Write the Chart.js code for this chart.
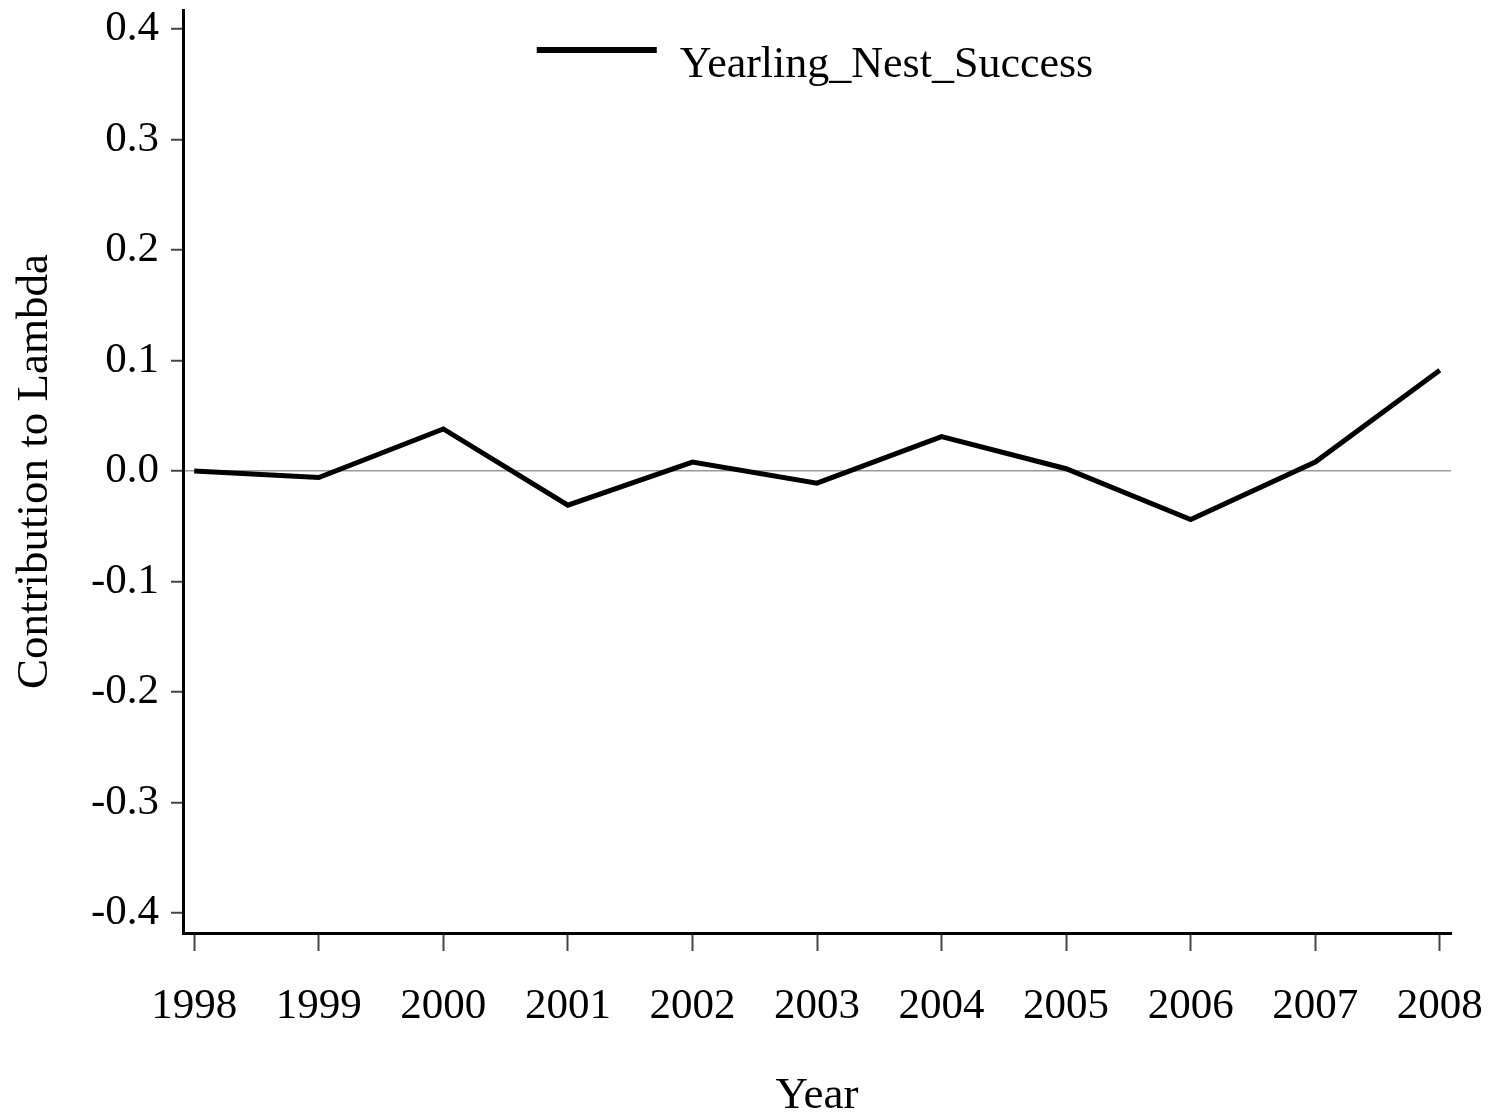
<!DOCTYPE html>
<html>
<head>
<meta charset="utf-8">
<script src="https://cdn.jsdelivr.net/npm/chart.js@4.4.1/dist/chart.umd.min.js"></script>
<style>
  body { margin: 0; background: #fff; }
  canvas { display: block; }
</style>
</head>
<body>
<canvas id="lambda-chart" width="1493" height="1119"></canvas>
<script>
// values
const years = [1998, 1999, 2000, 2001, 2002, 2003, 2004, 2005, 2006, 2007, 2008];
const contribution = [0.000, -0.006, 0.038, -0.031, 0.008, -0.011, 0.031, 0.002, -0.044, 0.008, 0.091];
const yTicks = [-0.4, -0.3, -0.2, -0.1, 0.0, 0.1, 0.2, 0.3, 0.4];
const seriesName = 'Yearling_Nest_Success';

const serif = 'Liberation Serif';

// legend sits inside the plot, centred near the top
const insideLegend = {
    id: 'insideLegend',
    afterDraw(chart) {
        const { ctx, chartArea } = chart;
        const ds = chart.data.datasets[0];
        ctx.save();
        ctx.font = '44px "' + serif + '"';
        const textW = ctx.measureText(ds.label).width;
        const lineW = 120, gap = 23;
        const x0 = (chartArea.left + chartArea.right) / 2 - (lineW + gap + textW) / 2 - 2;
        ctx.strokeStyle = ds.borderColor;
        ctx.lineWidth = 6;
        ctx.beginPath();
        ctx.moveTo(x0, chartArea.top + 40);
        ctx.lineTo(x0 + lineW, chartArea.top + 40);
        ctx.stroke();
        ctx.fillStyle = '#000';
        ctx.textBaseline = 'alphabetic';
        ctx.fillText(ds.label, x0 + lineW + gap, chartArea.top + 67);
        ctx.restore();
    }
}

const data = {
    datasets: [{
        label: seriesName,
        data: years.map((yr, i) => ({ x: yr, y: contribution[i] })),
        borderColor: '#000',
        backgroundColor: '#000',
        borderWidth: 5,
        pointRadius: 0,
        tension: 0,
        showLine: true,
        clip: false
    }]
}

const config = {
    type: 'scatter',
    data,
    plugins: [insideLegend],
    options: {
        responsive: false,
        animation: false,
        layout: { padding: { top: 10, right: 42, left: 0, bottom: 0 } },
        plugins: {
            tooltip: { enabled: false },
            legend: { display: false }
        },
        scales: {
            x: {
                type: 'linear',
                min: 1997.91,
                max: 2008.09,
                afterBuildTicks: s => { s.ticks = years.map(v => ({ value: v })) },
                afterFit: s => { s.height = 186; s.paddingLeft = 0; s.paddingRight = 0 },
                ticks: {
                    color: '#000',
                    font: { family: serif, size: 43 },
                    padding: 30,
                    maxRotation: 0,
                    autoSkip: false,
                    callback: v => String(v)
                },
                grid: {
                    drawOnChartArea: false,
                    drawTicks: true,
                    tickLength: 18,
                    tickColor: '#444',
                    tickWidth: 2
                },
                border: { color: '#000', width: 3 },
                title: {
                    display: true,
                    text: 'Year',
                    color: '#000',
                    font: { family: serif, size: 45, lineHeight: 1 },
                    padding: { top: 0, bottom: 0 }
                }
            },
            y: {
                min: -0.418,
                max: 0.417,
                afterBuildTicks: s => { s.ticks = yTicks.map(v => ({ value: v })) },
                afterFit: s => { s.width = 183; s.paddingTop = 0; s.paddingBottom = 0 },
                ticks: {
                    color: '#000',
                    font: { family: serif, size: 43 },
                    padding: 12,
                    callback: v => v.toFixed(1)
                },
                grid: {
                    drawOnChartArea: true,
                    drawTicks: true,
                    tickLength: 12,
                    tickColor: '#444',
                    tickWidth: 2,
                    lineWidth: 1.5,
                    color: ctx => (ctx.tick && ctx.tick.value === 0) ? '#999' : 'rgba(0,0,0,0)'   // only the zero line shows
                },
                border: { color: '#000', width: 3 },
                title: {
                    display: true,
                    text: 'Contribution to Lambda',
                    color: '#000',
                    font: { family: serif, size: 45, lineHeight: 1.2 },
                    padding: { top: 8, bottom: 0 }
                }
            }
        }
    }
}

let lambdaChart = new Chart(document.getElementById('lambda-chart'), config);
</script>
</body>
</html>
